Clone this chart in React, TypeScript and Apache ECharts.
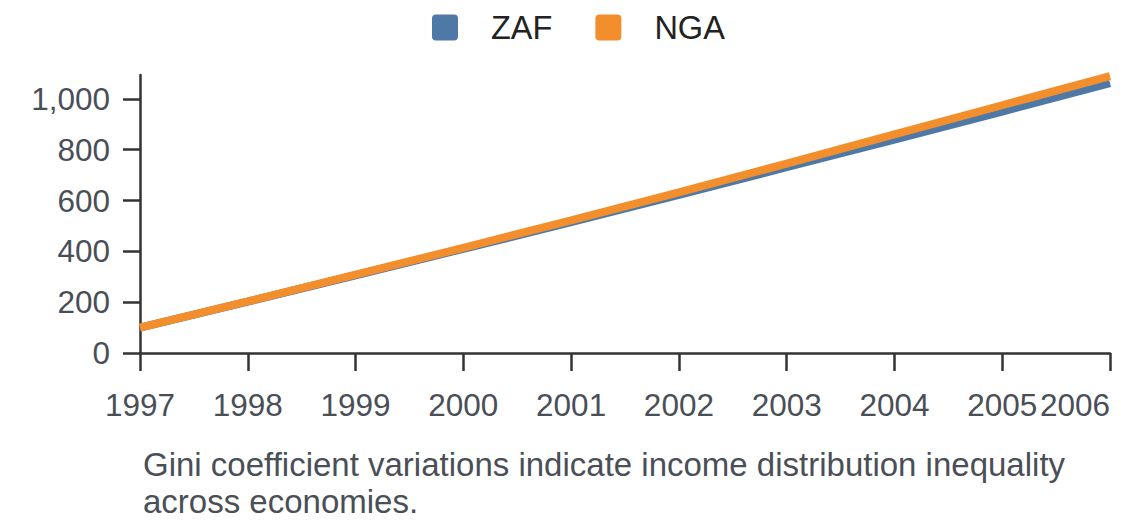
import React, { useEffect, useRef } from "react";
import * as echarts from "echarts";

const years = [1997, 1998, 1999, 2000, 2001, 2002, 2003, 2004, 2005, 2006];
const zaf = [100, 202, 306, 410, 515, 622, 731, 840, 950, 1062];
const nga = [100, 203, 308, 414, 522, 632, 745, 860, 975, 1090];
const yTicks = [0, 200, 400, 600, 800, 1000];
const seriesNames = ["ZAF", "NGA"];
const colors = ["#4e79a7", "#f28e2b"];
const caption =
  "Gini coefficient variations indicate income distribution inequality\nacross economies.";

export default function App() {
  const ref = useRef<HTMLDivElement>(null);
  useEffect(() => {
    document.body.style.margin = "0";
    const chart = echarts.init(ref.current!, null, { renderer: "svg" });
    const font = "Liberation Sans, Arial, sans-serif";
    const axisColor = "#333";
    const labelColor = "#4a4f57";
    chart.setOption({
      animation: false,
      textStyle: { fontFamily: font },
      legend: {
        top: 6,
        left: 427,
        itemWidth: 26,
        itemHeight: 26,
        itemGap: 43,
        icon: "path://M4,0H22Q26,0 26,4V22Q26,26 22,26H4Q0,26 0,22V4Q0,0 4,0Z",
        textStyle: { fontSize: 32.5, color: "#222", padding: [0, 0, 0, 28], fontFamily: font },
        data: seriesNames,
      },
      grid: { left: 140, right: 30, top: 75, bottom: 175, containLabel: false },
      xAxis: {
        type: "value",
        min: years[0],
        max: years[years.length - 1],
        interval: 1,
        axisLine: { show: true, lineStyle: { color: axisColor, width: 2.5 } },
        axisTick: { show: true, length: 18, lineStyle: { color: axisColor, width: 2.5 } },
        axisLabel: {
          fontSize: 31.5,
          color: labelColor,
          margin: 36,
          formatter: (v: number) => String(v),
          alignMaxLabel: "right",
          fontFamily: font,
        },
        splitLine: { show: false },
      },
      yAxis: {
        type: "value",
        min: 0,
        max: 1094,
        axisLine: { show: true, lineStyle: { color: axisColor, width: 2.5 } },
        axisTick: {
          show: true,
          length: 17,
          customValues: yTicks,
          lineStyle: { color: axisColor, width: 2.5 },
        },
        axisLabel: {
          fontSize: 31.5,
          color: labelColor,
          margin: 30,
          customValues: yTicks,
          formatter: (v: number) => v.toLocaleString("en-US"),
          fontFamily: font,
        },
        splitLine: { show: false },
      },
      series: [
        {
          name: seriesNames[0],
          type: "line",
          data: years.map((y, i) => [y, zaf[i]]),
          showSymbol: false,
          symbol: "none",
          lineStyle: { width: 8, color: colors[0] },
          itemStyle: { color: colors[0] },
        },
        {
          name: seriesNames[1],
          type: "line",
          data: years.map((y, i) => [y, nga[i]]),
          showSymbol: false,
          symbol: "none",
          lineStyle: { width: 8, color: colors[1] },
          itemStyle: { color: colors[1] },
        },
      ],
      graphic: [
        {
          type: "text",
          left: 143,
          top: 446,
          style: {
            text: caption,
            fontSize: 33,
            lineHeight: 37,
            fill: labelColor,
            fontFamily: font,
          },
        },
      ],
    });
    return () => chart.dispose();
  }, []);
  return (
    <div
      ref={ref}
      style={{ position: "absolute", left: 0, top: 0, width: 1140, height: 528 }}
    />
  );
}
